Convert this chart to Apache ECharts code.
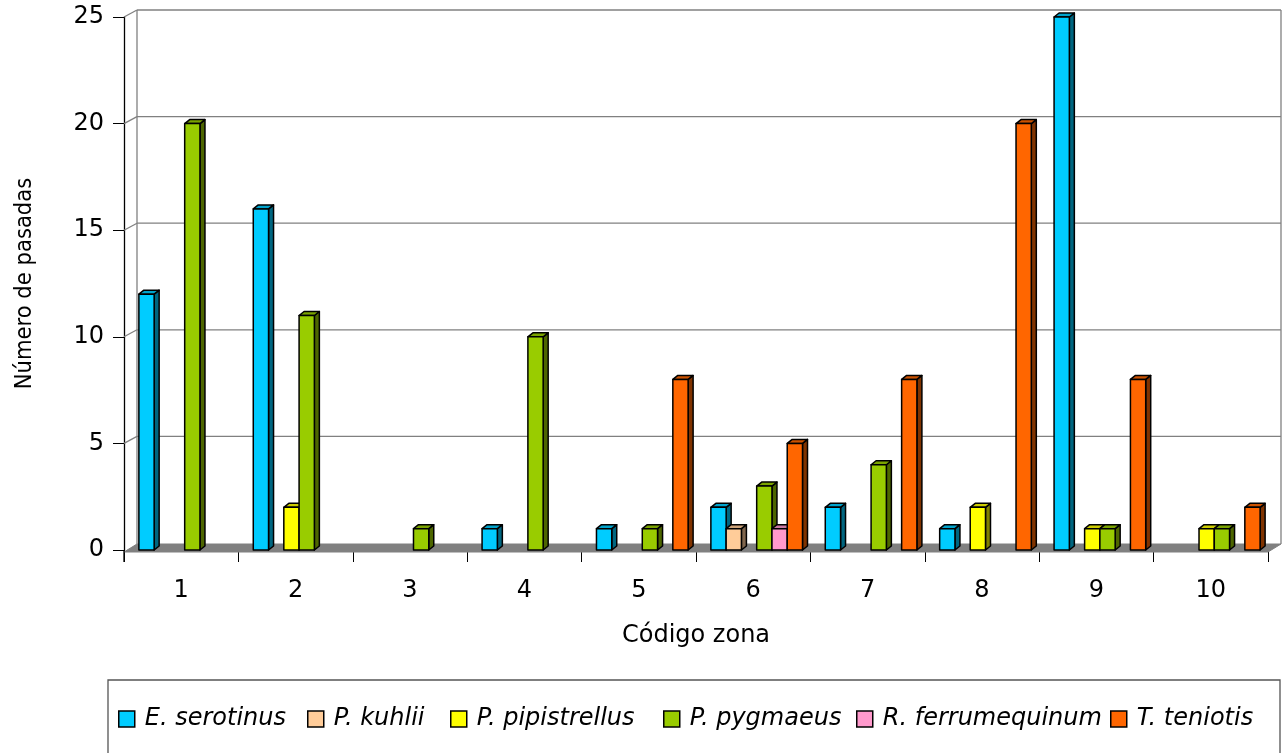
<!DOCTYPE html>
<html>
<head>
<meta charset="utf-8">
<script src="https://cdn.jsdelivr.net/npm/echarts@6/dist/echarts.min.js"></script>
<style>
  html, body { margin: 0; padding: 0; background: #fff; }
  #chart { width: 1288px; height: 753px; }
</style>
</head>
<body>
<div id="chart"></div>
<script>
var zonas = ['1', '2', '3', '4', '5', '6', '7', '8', '9', '10'];
var eSerotinus     = [12, 16, 0, 1, 1, 2, 2, 1, 25, 0];
var pKuhlii        = [0, 0, 0, 0, 0, 1, 0, 0, 0, 0];
var pPipistrellus  = [0, 2, 0, 0, 0, 0, 0, 2, 1, 1];
var pPygmaeus      = [20, 11, 1, 10, 1, 3, 4, 0, 1, 1];
var rFerrumequinum = [0, 0, 0, 0, 0, 1, 0, 0, 0, 0];
var tTeniotis      = [0, 0, 0, 0, 8, 5, 8, 20, 8, 2];
var yTicks = [0, 5, 10, 15, 20, 25];

var especies = [
    { name: 'E. serotinus',     data: eSerotinus,     color: '#00CCFF', top: '#00A3CC', side: '#006680', legendX: 118 },
    { name: 'P. kuhlii',        data: pKuhlii,        color: '#FFCC99', top: '#CCA37A', side: '#80664D', legendX: 307 },
    { name: 'P. pipistrellus',  data: pPipistrellus,  color: '#FFFF00', top: '#CCCC00', side: '#808000', legendX: 450 },
    { name: 'P. pygmaeus',      data: pPygmaeus,      color: '#99CC00', top: '#7AA300', side: '#4D6600', legendX: 663 },
    { name: 'R. ferrumequinum', data: rFerrumequinum, color: '#FF99CC', top: '#CC7AA3', side: '#804D66', legendX: 856 },
    { name: 'T. teniotis',      data: tTeniotis,      color: '#FF6600', top: '#CC5200', side: '#803300', legendX: 1110 }
];

var FONT = '"DejaVu Sans", sans-serif';
var FONT_COND = '"DejaVu Sans Condensed", "DejaVu Sans", sans-serif';
var DX = 13, DY = 7;     // profundidad de las paredes
var BDX = 5, BDY = 4;    // profundidad de las barras

var myChart = echarts.init(document.getElementById('chart'));

// paredes, suelo y lineas de division
var frameSeries = {
    type: 'custom',
    silent: true,
    z: 1,
    data: yTicks.map(function (v) { return [0, v]; }),
    renderItem: function (params, api) {
        var cs = params.coordSys;
        var p = api.coord([0, api.value(1)]);
        var y = p[1];
        var x0 = cs.x, x1 = cs.x + cs.width;
        var children = [];
        var grid = { stroke: '#808080', lineWidth: 1.3 };
        if (api.value(1) === 0) {
            children.push({
                type: 'polygon',
                shape: { points: [[x0, y + 2], [x1, y + 2], [x1 + DX, y - DY + 1], [x0 + DX, y - DY + 1]] },
                style: { fill: '#808080', stroke: '#808080' }
            });
            children.push({
                type: 'line',
                shape: { x1: x0 + DX, y1: cs.y - DY, x2: x0 + DX, y2: y - DY + 1 },
                style: grid
            });
            children.push({
                type: 'line',
                shape: { x1: x1 + DX, y1: cs.y - DY, x2: x1 + DX, y2: y - DY + 1 },
                style: grid
            });
            // prolongacion del eje vertical bajo el suelo
            children.push({
                type: 'line',
                shape: { x1: x0, y1: y, x2: x0, y2: y + 12 },
                style: { stroke: '#000', lineWidth: 1.3 }
            });
        } else {
            children.push({
                type: 'line',
                shape: { x1: x0, y1: y, x2: x0 + DX, y2: y - DY },
                style: grid
            });
            children.push({
                type: 'line',
                shape: { x1: x0 + DX, y1: y - DY, x2: x1 + DX, y2: y - DY },
                style: grid
            });
        }
        return { type: 'group', children: children };
    }
};

function barSeries(sp, slot) {
    return {
        name: sp.name,
        type: 'custom',
        z: 2 + slot,
        itemStyle: { color: sp.color, borderColor: '#000', borderWidth: 1.5 },
        data: sp.data.map(function (v, i) { return [i, v]; }),
        renderItem: function (params, api) {
            var val = api.value(1);
            if (!val) return null;
            var base = api.coord([api.value(0), 0]);
            var top = api.coord([api.value(0), val]);
            var band = api.size([1, 0])[0];
            var w = band * 0.1335;
            var x = base[0] - band / 2 + band * 0.13 + slot * w;
            var yb = base[1], yt = top[1];
            var line = { stroke: '#000', lineWidth: 1.5, lineJoin: 'round' };
            return {
                type: 'group',
                children: [
                    {
                        type: 'polygon',
                        shape: { points: [[x + w, yt], [x + w + BDX, yt - BDY], [x + w + BDX, yb - BDY], [x + w, yb]] },
                        style: Object.assign({ fill: sp.side }, line)
                    },
                    {
                        type: 'polygon',
                        shape: { points: [[x, yt], [x + BDX, yt - BDY], [x + w + BDX, yt - BDY], [x + w, yt]] },
                        style: Object.assign({ fill: sp.top }, line)
                    },
                    {
                        type: 'rect',
                        shape: { x: x, y: yt, width: w, height: yb - yt },
                        style: Object.assign({ fill: sp.color }, line)
                    }
                ]
            };
        }
    };
}

var series = [frameSeries];
especies.forEach(function (sp, i) { series.push(barSeries(sp, i)); });

var legends = especies.map(function (sp) {
    return {
        data: [sp.name],
        left: sp.legendX,
        top: 707,
        padding: 0,
        itemWidth: 16,
        itemHeight: 16,
        itemGap: 0,
        icon: 'rect',
        itemStyle: { borderColor: '#000', borderWidth: 1.5 },
        textStyle: { fontFamily: FONT, fontStyle: 'italic', fontSize: 24, color: '#000', padding: [0, 0, 0, 5] },
        selectedMode: false
    };
});

var option = {
    backgroundColor: '#fff',
    animation: false,
    grid: { left: 124, right: 20, top: 17, bottom: 203, containLabel: false, outerBoundsMode: 'none' },
    legend: legends,
    xAxis: {
        type: 'category',
        data: zonas,
        boundaryGap: true,
        name: 'Código zona',
        nameLocation: 'middle',
        nameGap: 74,
        nameTextStyle: { fontFamily: FONT, fontSize: 24, color: '#000' },
        axisLine: { show: false },
        axisTick: { show: true, length: 12, lineStyle: { color: '#000', width: 1 } },
        axisLabel: { fontFamily: FONT, fontSize: 24, color: '#000', margin: 29 },
        splitLine: { show: false }
    },
    yAxis: {
        type: 'value',
        min: 0,
        max: 25,
        interval: 5,
        name: 'Número de pasadas',
        nameLocation: 'middle',
        nameRotate: 90,
        nameGap: 87,
        nameTextStyle: { fontFamily: FONT_COND, fontSize: 23.5, color: '#000' },
        axisLine: { show: true, lineStyle: { color: '#000', width: 1.3 } },
        axisTick: { show: true, length: 11, lineStyle: { color: '#000', width: 1 } },
        axisLabel: { fontFamily: FONT, fontSize: 24, color: '#000', margin: 20 },
        splitLine: { show: false }
    },
    graphic: [
        {
            type: 'rect',
            silent: true,
            shape: { x: 108, y: 680, width: 1172, height: 100 },
            style: { fill: 'none', stroke: '#555', lineWidth: 1.3 }
        }
    ],
    series: series
};

myChart.setOption(option);
</script>
</body>
</html>
